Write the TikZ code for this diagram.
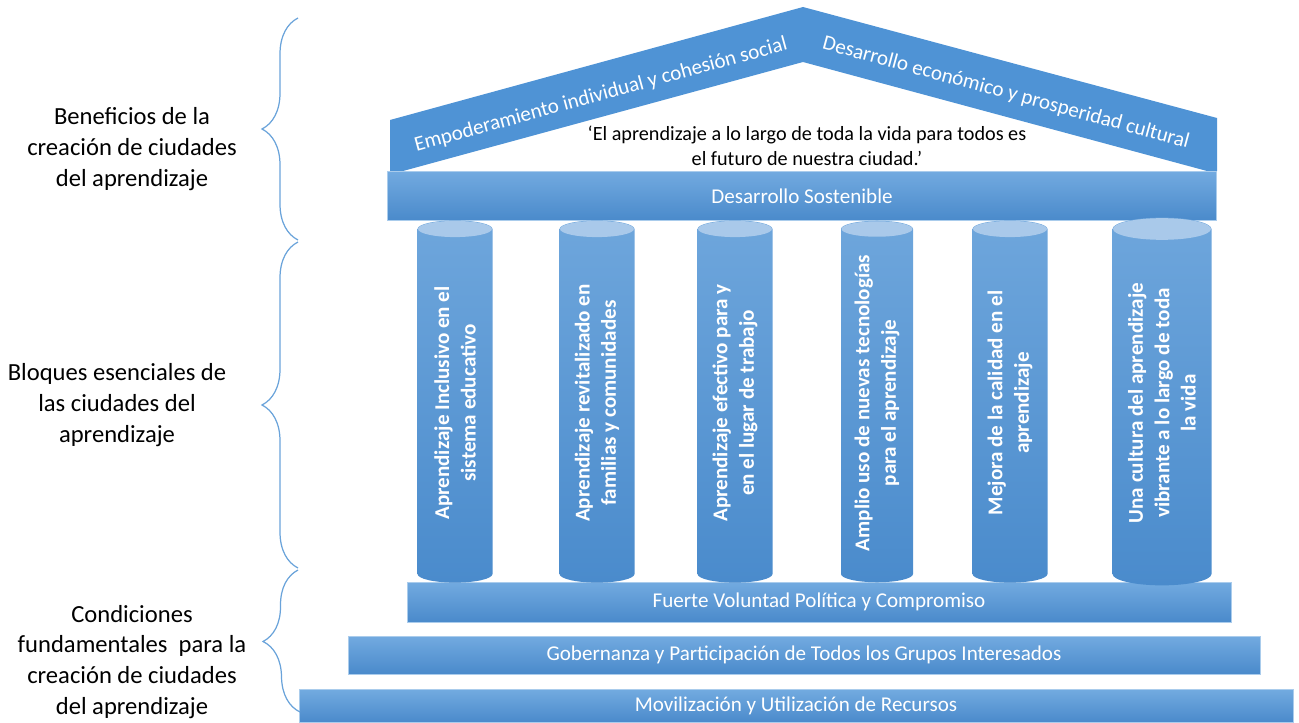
\documentclass[tikz,border=0pt]{standalone}
\usepackage{fontspec}
\setmainfont{Carlito}
\usepackage{tikz}
\usetikzlibrary{decorations.pathreplacing}

\definecolor{roofblue}{HTML}{4F93D5}
\definecolor{bandtop}{HTML}{72AAE0}
\definecolor{bandbot}{HTML}{4A8ACB}
\definecolor{coltop}{HTML}{6EA6DC}
\definecolor{colbot}{HTML}{4A8BCC}
\definecolor{colend}{HTML}{A9C9EA}
\definecolor{bracecol}{HTML}{6AA3DA}

\begin{document}
\begin{tikzpicture}[x=0.02cm, y=-0.02cm,
bandnode/.style={rectangle, top color=bandtop, bottom color=bandbot, draw=bandtop!60!white, line width=0.3pt, text=white, inner sep=0pt, font=\fontsize{12}{14}\selectfont},
coltext/.style={rotate=90, text=white, align=center, font=\fontsize{12}{15}\selectfont\bfseries},
rooftext/.style={text=white, font=\fontsize{12}{14}\selectfont},
sidelabel/.style={align=center, font=\fontsize{14}{17.6}\selectfont},
bracestyle/.style={draw=bracecol, line width=0.7pt, decorate, decoration={brace, amplitude=0.72cm}},
]
\useasboundingbox (0,0) rectangle (1299,723);

%Roof
\fill[roofblue] (390,171) -- (390,120) -- (803,7) -- (1217,118) -- (1217,171) -- (1207,171) -- (803,62) -- (403,171) -- cycle;
\node[rooftext, rotate=15.3]  (empod) at (601,95) {Empoderamiento individual y cohesión social};
\node[rooftext, rotate=-15.2] (econ)  at (1006,93) {Desarrollo económico y prosperidad cultural};
\node[align=center, font=\fontsize{11.5}{14}\selectfont] (quote) at (807,146) {‘El aprendizaje a lo largo de toda la vida para todos es\\el futuro de nuestra ciudad.’};

%Bands
\node[bandnode, minimum width=16.58cm, minimum height=0.98cm] (sost)   at (802,196) {Desarrollo Sostenible};
\node[bandnode, minimum width=16.48cm, minimum height=0.8cm]  (fuerte) at (819,602) {Fuerte Voluntad Política y Compromiso};
\node[bandnode, minimum width=18.24cm, minimum height=0.76cm] (gober)  at (804,655) {Gobernanza y Participación de Todos los Grupos Interesados};
\node[bandnode, minimum width=19.88cm, minimum height=0.66cm] (movil)  at (796,706) {Movilización y Utilización de Recursos};

%Columns
\foreach \i/\cx/\w/\txt in {
  1/455/37.5/{Aprendizaje Inclusivo en el\\sistema educativo},
  2/597/37.5/{Aprendizaje revitalizado en\\familias y comunidades},
  3/735/37.5/{Aprendizaje efectivo para y\\en el lugar de trabajo},
  4/877/36/{Amplio uso de nuevas tecnologías\\para el aprendizaje},
  5/1010/37.5/{Mejora de la calidad en el\\aprendizaje},
  6/1162/49.5/{Una cultura del aprendizaje\\vibrante a lo largo de toda\\la vida}}
{
  \shade[top color=coltop, bottom color=colbot]
    (\cx-\w,229) -- (\cx-\w,574) arc[start angle=180, end angle=360, x radius=\w*0.02cm, y radius=\w*0.0046cm]
    -- (\cx+\w,229) arc[start angle=0, end angle=180, x radius=\w*0.02cm, y radius=\w*0.0046cm] -- cycle;
  \fill[colend] (\cx,229) ellipse[x radius=\w*0.02cm-0.3pt, y radius=\w*0.0046cm-0.3pt];
  \node[coltext] (col\i) at (\cx,403) {\txt};
}

%Labels
\node[sidelabel] (benef) at (132,149) {Beneficios de la\\creación de ciudades\\del aprendizaje};
\node[sidelabel] (bloq)  at (117,405) {Bloques esenciales de\\las ciudades del\\aprendizaje};
\node[sidelabel] (cond)  at (132,662) {Condiciones\\fundamentales\ \ para la\\creación de ciudades\\del aprendizaje};

%Braces
\draw[bracestyle] (298,240) -- (298,18);
\draw[bracestyle] (298,568) -- (298,242);
\draw[bracestyle] (300,712) -- (298,570);
\end{tikzpicture}
\end{document}
